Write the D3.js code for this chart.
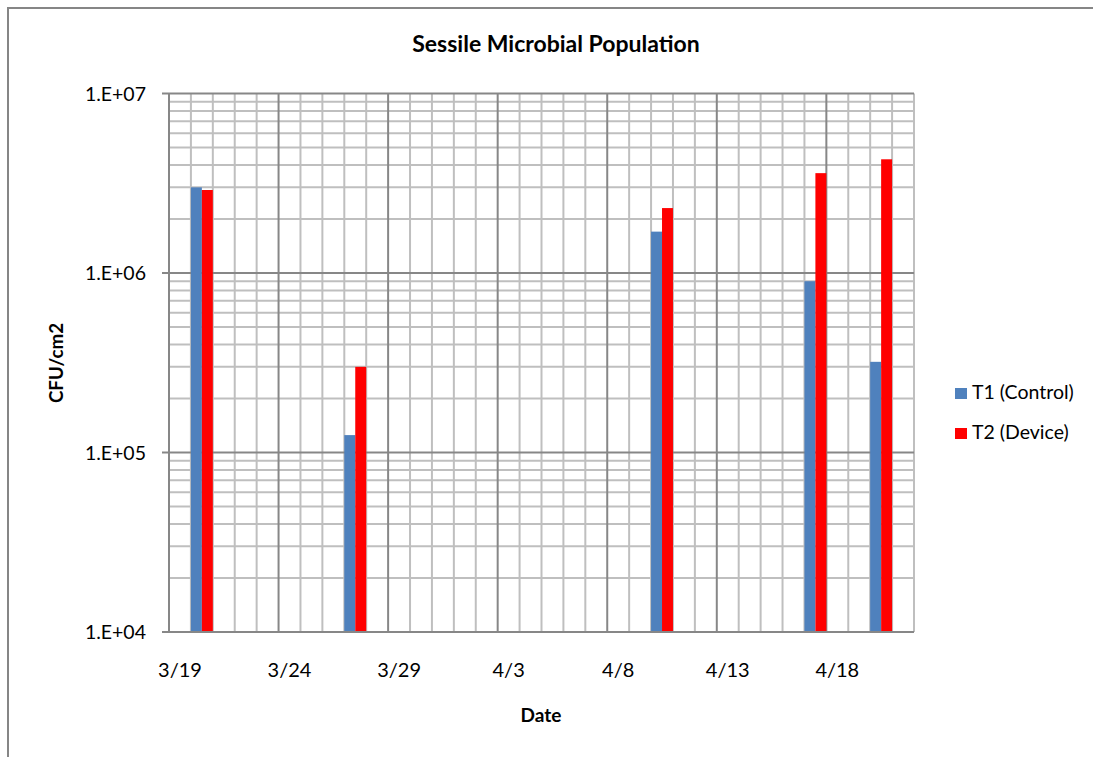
<!DOCTYPE html>
<html><head><meta charset="utf-8">
<script src="https://cdn.jsdelivr.net/npm/d3@7"></script>
<style>
html,body{margin:0;padding:0;background:#fff;}
svg{display:block;}
text{font-family:Lato,"Open Sans",sans-serif;fill:#000;}
</style></head>
<body>
<svg id="chart" width="1093" height="757"></svg>
<script>
// ---- data ----
const dates = ["3/20", "3/27", "4/10", "4/17", "4/20"];
const t1Control = [3.0e6, 1.25e5, 1.7e6, 9.0e5, 3.2e5];
const t2Device = [2.9e6, 3.0e5, 2.3e6, 3.6e6, 4.3e6];
const seriesNames = ["T1 (Control)", "T2 (Device)"];
const xTickLabels = ["3/19", "3/24", "3/29", "4/3", "4/8", "4/13", "4/18"];
const yTickLabels = ["1.E+04", "1.E+05", "1.E+06", "1.E+07"];
const yTickValues = [1e4, 1e5, 1e6, 1e7];
const axisStart = "3/19", axisEnd = "4/22";

const YEAR = 2013;
const parse = s => { const [m, d] = s.split("/").map(Number); return new Date(YEAR, m - 1, d); };

const svg = d3.select("#chart");
const pLeft = 169, pRight = 914, pTop = 93.5, pBottom = 632;

const x = d3.scaleTime().domain([parse(axisStart), parse(axisEnd)]).range([pLeft, pRight]);
const y = d3.scaleLog().domain([1e4, 1e7]).range([pBottom, pTop]);
const dayW = x(d3.timeDay.offset(parse(axisStart), 1)) - x(parse(axisStart));

// chart area border
svg.append("rect").attr("x", 8).attr("y", 8).attr("width", 1200).attr("height", 900)
  .attr("fill", "#fff").attr("stroke", "#868686").attr("stroke-width", 2);

const g = svg.append("g");
const minorCol = "#BFBFBF", majorCol = "#878787";

// vertical gridlines: every day (minor), every 5 days (major)
const days = d3.timeDay.range(parse(axisStart), d3.timeDay.offset(parse(axisEnd), 1));
const majorDays = xTickLabels.map(parse).map(d => +d);
g.selectAll("line.vmin").data(days.filter(d => !majorDays.includes(+d))).join("line")
  .attr("x1", d => x(d)).attr("x2", d => x(d)).attr("y1", pTop).attr("y2", pBottom)
  .attr("stroke", minorCol).attr("stroke-width", 2);

// horizontal minor gridlines
const minorVals = [];
for (let e = 4; e < 7; e++) for (let k = 2; k <= 9; k++) minorVals.push(k * Math.pow(10, e));
g.selectAll("line.hmin").data(minorVals).join("line")
  .attr("x1", pLeft).attr("x2", pRight).attr("y1", d => y(d)).attr("y2", d => y(d))
  .attr("stroke", minorCol).attr("stroke-width", 2);

// major vertical
g.selectAll("line.vmaj").data(xTickLabels.map(parse)).join("line")
  .attr("x1", d => x(d)).attr("x2", d => x(d)).attr("y1", pTop).attr("y2", pBottom)
  .attr("stroke", majorCol).attr("stroke-width", 2);

// major horizontal + tick marks
g.selectAll("line.hmaj").data(yTickValues).join("line")
  .attr("x1", pLeft - 7).attr("x2", pRight).attr("y1", d => y(d)).attr("y2", d => y(d))
  .attr("stroke", majorCol).attr("stroke-width", 2);

// bars
const rows = dates.map((d, i) => ({ date: parse(d), t1: t1Control[i], t2: t2Device[i] }));
g.selectAll("rect.t1").data(rows).join("rect")
  .attr("x", d => x(d.date)).attr("width", dayW / 2)
  .attr("y", d => y(d.t1)).attr("height", d => y(1e4) - y(d.t1))
  .attr("fill", "#4F81BD");
g.selectAll("rect.t2").data(rows).join("rect")
  .attr("x", d => x(d.date) + dayW / 2).attr("width", dayW / 2)
  .attr("y", d => y(d.t2)).attr("height", d => y(1e4) - y(d.t2))
  .attr("fill", "#FF0000");

// axes lines
g.append("line").attr("x1", pLeft).attr("x2", pLeft).attr("y1", pTop).attr("y2", pBottom)
  .attr("stroke", majorCol).attr("stroke-width", 2);
g.append("line").attr("x1", pLeft - 7).attr("x2", pRight).attr("y1", pBottom).attr("y2", pBottom)
  .attr("stroke", majorCol).attr("stroke-width", 2);

// y tick labels
svg.selectAll("text.yt").data(yTickValues).join("text")
  .attr("x", 146).attr("y", d => y(d) + 7).attr("text-anchor", "end")
  .attr("font-size", 19.5).text((d, i) => yTickLabels[i]);

// x tick labels
svg.selectAll("text.xt").data(xTickLabels).join("text")
  .attr("x", d => x(parse(d)) + dayW / 2).attr("y", 677).attr("text-anchor", "middle")
  .attr("font-size", 20).text(d => d);

// titles
svg.append("text").attr("x", 556).attr("y", 52).attr("text-anchor", "middle")
  .attr("font-size", 23).attr("font-weight", "bold").text("Sessile Microbial Population");
svg.append("text").attr("x", 541).attr("y", 722).attr("text-anchor", "middle")
  .attr("font-size", 19).attr("font-weight", "bold").text("Date");
svg.append("text").attr("transform", "translate(63,363) rotate(-90)").attr("text-anchor", "middle")
  .attr("font-size", 18.8).attr("font-weight", "bold").text("CFU/cm2");

// legend
const legColors = ["#4F81BD", "#FF0000"];
const lg = svg.selectAll("g.leg").data(seriesNames).join("g")
  .attr("transform", (d, i) => `translate(955,${388 + i * 40})`);
lg.append("rect").attr("width", 12).attr("height", 11).attr("fill", (d, i) => legColors[i]);
lg.append("text").attr("x", 17).attr("y", 11).attr("font-size", 19.5).text(d => d);
</script>
</body></html>
